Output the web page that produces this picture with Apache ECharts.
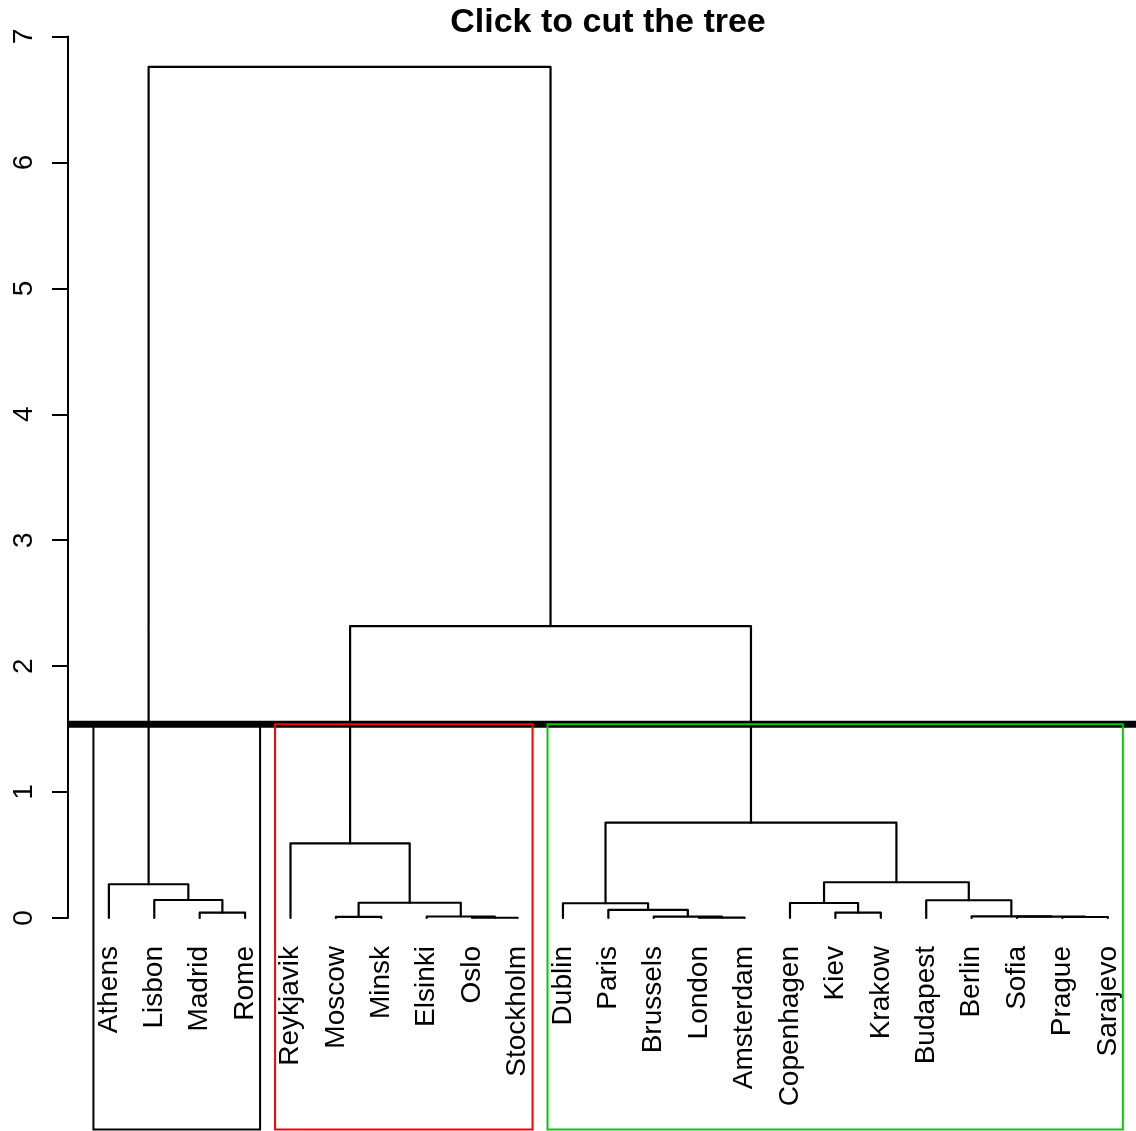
<!DOCTYPE html>
<html>
<head>
<meta charset="utf-8">
<script src="https://cdn.jsdelivr.net/npm/echarts@6/dist/echarts.min.js"></script>
<style>
  html, body { margin: 0; padding: 0; background: #fff; }
  #chart { width: 1136px; height: 1131px; }
</style>
</head>
<body>
<div id="chart"></div>
<script>
// leaves, in the order they are plotted
const cities = ['Athens', 'Lisbon', 'Madrid', 'Rome', 'Reykjavik', 'Moscow', 'Minsk', 'Elsinki', 'Oslo', 'Stockholm',
  'Dublin', 'Paris', 'Brussels', 'London', 'Amsterdam', 'Copenhagen', 'Kiev', 'Krakow', 'Budapest', 'Berlin',
  'Sofia', 'Prague', 'Sarajevo'];

// merge table like hclust$merge: a string is a leaf, a number is an earlier merge (1-based)
const mergeLeft = ['Oslo', 'London', 'Prague', 'Moscow', 'Brussels', 'Sofia', 'Elsinki', 'Berlin', 'Madrid', 'Kiev',
  'Paris', 'Dublin', 'Copenhagen', 4, 'Budapest', 'Lisbon', 'Athens', 13, 'Reykjavik', 12, 19, 17];
const mergeRight = ['Stockholm', 'Amsterdam', 'Sarajevo', 'Minsk', 2, 3, 1, 6, 'Rome', 'Krakow',
  5, 11, 10, 7, 8, 9, 16, 15, 14, 18, 20, 21];
const mergeHeight = [0.002, 0.003, 0.008, 0.009, 0.011, 0.011, 0.012, 0.013, 0.042, 0.042,
  0.064, 0.117, 0.119, 0.121, 0.141, 0.143, 0.268, 0.284, 0.593, 0.757, 2.318, 6.758];

const cutHeight = 1.538;
const clusterSizes = [4, 6, 13];
const clusterColors = ['#000000', '#ff0000', '#00cd00'];
const yTickLabels = ['0', '1', '2', '3', '4', '5', '6', '7'];

const FONT = '"Liberation Sans", Arial, Helvetica, sans-serif';
const xMin = 0.1, xMax = 23.62;   // plot region in leaf units
const plotBottom = -1.68;          // usr bottom, rects reach down to it

// x of every merge = middle of its two children
const nodeX = [];
function childPos(c) {
  if (typeof c === 'string') return [cities.indexOf(c) + 1, 0];
  return [nodeX[c - 1], mergeHeight[c - 1]];
}
mergeLeft.forEach((l, i) => {
  const a = childPos(l), b = childPos(mergeRight[i]);
  nodeX.push((a[0] + b[0]) / 2);
});

// rect.hclust boxes: from m[k] + 0.66 to m[k+1] + 0.33
const rects = [];
let acc = 0;
clusterSizes.forEach((n, k) => {
  rects.push([acc + 0.66, acc + n + 0.33, k]);
  acc += n;
});

const chart = echarts.init(document.getElementById('chart'));

const option = {
  animation: false,
  backgroundColor: '#fff',
  title: {
    text: 'Click to cut the tree',
    left: 608,
    top: 6,
    padding: 0,
    textAlign: 'center',
    textStyle: { fontSize: 34, fontWeight: 'bold', color: '#000', fontFamily: FONT }
  },
  grid: {
    left: 68, right: 0, top: 36.5, bottom: 213,
    containLabel: false,
    outerBoundsMode: 'none'
  },
  xAxis: {
    type: 'value', min: xMin, max: xMax, show: false
  },
  yAxis: {
    type: 'value', min: 0, max: 7, interval: 1,
    axisLine: { show: true, onZero: false, lineStyle: { color: '#000', width: 2 } },
    axisTick: { show: true, length: 16, lineStyle: { color: '#000', width: 2 } },
    axisLabel: {
      rotate: 90, margin: 30, fontSize: 28, color: '#000', fontFamily: FONT,
      formatter: v => yTickLabels[v]
    },
    splitLine: { show: false }
  },
  series: [
    {
      // the tree
      type: 'custom',
      clip: false,
      z: 2,
      data: mergeHeight.map((h, i) => [nodeX[i], h]),
      renderItem: (params, api) => {
        const i = params.dataIndex;
        const a = childPos(mergeLeft[i]), b = childPos(mergeRight[i]);
        const h = mergeHeight[i];
        return {
          type: 'polyline',
          shape: { points: [api.coord(a), api.coord([a[0], h]), api.coord([b[0], h]), api.coord(b)] },
          style: { stroke: '#000', lineWidth: 2.2, fill: null, lineCap: 'round', lineJoin: 'round' }
        };
      }
    },
    {
      // leaf labels
      type: 'custom',
      clip: false,
      z: 2,
      data: cities.map((c, i) => [i + 1, 0]),
      renderItem: (params, api) => {
        const p = api.coord([params.dataIndex + 1, 0]);
        return {
          type: 'text',
          x: p[0], y: p[1] + 28,
          rotation: Math.PI / 2,
          style: {
            text: cities[params.dataIndex], fill: '#000',
            fontSize: 28, fontFamily: FONT,
            align: 'right', verticalAlign: 'middle'
          }
        };
      }
    },
    {
      // cut line
      type: 'custom',
      clip: false,
      z: 3,
      data: [[xMin, cutHeight]],
      renderItem: (params, api) => ({
        type: 'polyline',
        shape: { points: [api.coord([xMin, cutHeight]), api.coord([xMax, cutHeight])] },
        style: { stroke: '#000', lineWidth: 7, fill: null }
      })
    },
    {
      // cluster boxes
      type: 'custom',
      clip: false,
      z: 4,
      data: rects,
      renderItem: (params, api) => {
        const r = rects[params.dataIndex];
        const p1 = api.coord([r[0], cutHeight]);
        const p2 = api.coord([r[1], plotBottom]);
        return {
          type: 'rect',
          shape: { x: p1[0], y: p1[1], width: p2[0] - p1[0], height: p2[1] - p1[1] },
          style: { stroke: clusterColors[r[2]], lineWidth: 2, fill: null }
        };
      }
    }
  ]
};

chart.setOption(option);
</script>
</body>
</html>
